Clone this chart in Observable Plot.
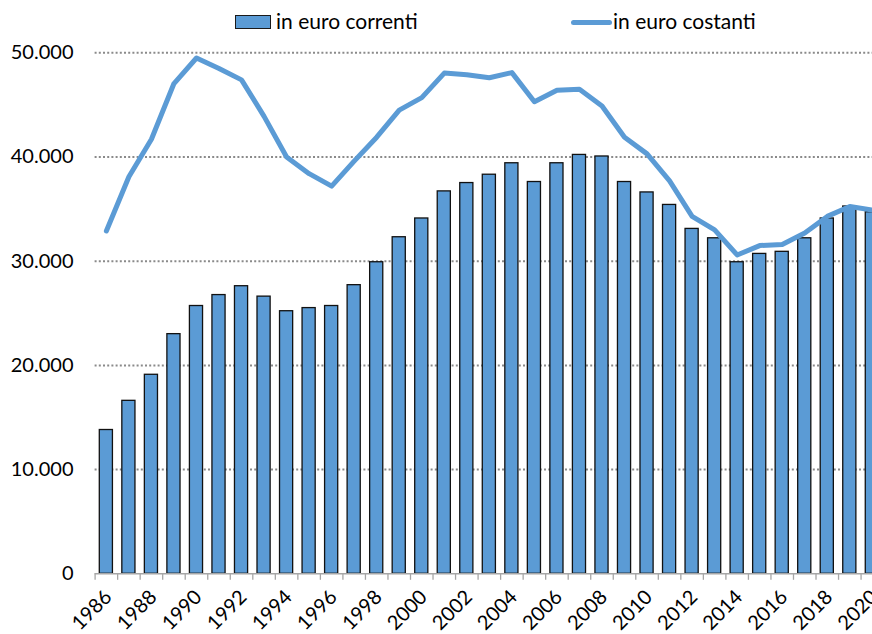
<!DOCTYPE html>
<html><head><meta charset="utf-8">
<script src="https://cdn.jsdelivr.net/npm/d3@7"></script>
<script src="https://cdn.jsdelivr.net/npm/@observablehq/plot@0.6"></script>
<style>
body{margin:0;background:#fff;overflow:hidden;font-family:Lato,sans-serif;}
#wrap{position:relative;width:872px;height:634px;overflow:hidden;}
#legend{position:relative;height:40px;font-size:21px;line-height:21px;color:#000;}
#legend .sw-bar{position:absolute;left:235px;top:15px;width:34px;height:12px;background:#5B9BD5;border:1.5px solid #1a1a1a;}
#legend .sw-line{position:absolute;left:571px;top:19.5px;width:41px;height:5px;border-radius:3px;background:#5B9BD5;}
#legend .t{position:absolute;top:9.7px;white-space:nowrap;}
#chart svg{display:block;}
</style></head><body>
<div id="wrap">
  <div id="legend"></div>
  <div id="chart"></div>
</div>
<script>
const years = [1986,1987,1988,1989,1990,1991,1992,1993,1994,1995,1996,1997,1998,1999,2000,2001,2002,2003,2004,2005,2006,2007,2008,2009,2010,2011,2012,2013,2014,2015,2016,2017,2018,2019,2020];
const correnti = [13800,16600,19100,23000,25700,26750,27600,26600,25200,25500,25700,27700,29900,32300,34100,36700,37500,38300,39400,37600,39400,40200,40050,37600,36600,35400,33100,32200,29900,30700,30900,32200,34100,35250,34700];
const costanti = [32900,38100,41700,47050,49500,48500,47400,43900,40000,38400,37200,39600,41900,44500,45700,48050,47900,47600,48100,45300,46400,46500,44900,41900,40300,37700,34300,33000,30600,31500,31600,32700,34300,35250,34900];
const yTicks = [0,10000,20000,30000,40000,50000];
const xLabels = [1986,1988,1990,1992,1994,1996,1998,2000,2002,2004,2006,2008,2010,2012,2014,2016,2018,2020];
const seriesNames = ["in euro correnti","in euro costanti"];

// legend
const legend = document.getElementById("legend");
legend.innerHTML =
  `<div class="sw-bar"></div><span class="t" style="left:276px">${seriesNames[0]}</span>` +
  `<div class="sw-line"></div><span class="t" style="left:613px">${seriesNames[1]}</span>`;

const blue = "#5B9BD5";
const W = 872, H = 594;
const x0 = 94.6, x1 = 883.1;
const step = (x1 - x0) / years.length;
const fmt = d3.formatLocale({decimal: ",", thousands: ".", grouping: [3], currency: ["", "€"]}).format(",");

const rows = years.map((y, i) => ({year: y, correnti: correnti[i], costanti: costanti[i]}));

const chart = Plot.plot({
  width: W, height: H,
  marginLeft: x0, marginRight: W - x1, marginTop: 12.3, marginBottom: 60.7,
  style: {fontFamily: "Lato, sans-serif", fontSize: "20px", color: "#000", background: "transparent", overflow: "hidden"},
  x: {type: "band", domain: years, padding: 0, round: false, axis: null},
  y: {domain: [0, 50000], axis: null},
  marks: [
    Plot.gridY(yTicks.filter(d => d > 0), {stroke: "#8a8a8a", strokeOpacity: 1, strokeWidth: 2, strokeDasharray: "2,2.2"}),
    Plot.barY(rows, {x: "year", y: "correnti", fill: blue, stroke: "#111", strokeWidth: 1.3, insetLeft: 4.7, insetRight: 4.7}),
    Plot.ruleY([0], {stroke: "#a6a6a6", strokeWidth: 1.5}),
    Plot.axisX({ticks: years, tickSize: 6.5, tickFormat: () => "", label: null, dx: -step / 2, stroke: "#a6a6a6", strokeWidth: 1.3}),
    Plot.lineY(rows, {x: "year", y: "costanti", stroke: blue, strokeWidth: 5, strokeLinejoin: "round", strokeLinecap: "round"}),
    Plot.axisY({ticks: yTicks, tickFormat: fmt, tickSize: 0, tickPadding: 21.6, fontSize: 20, fill: "#000", label: null}),
    Plot.text(xLabels, {x: d => d, y: 0, text: d => String(d), rotate: -45, textAnchor: "end", lineAnchor: "middle", dx: 2, dy: 20, fontSize: 20, fill: "#000"})
  ]
});
document.getElementById("chart").appendChild(chart);
</script>
</body></html>
